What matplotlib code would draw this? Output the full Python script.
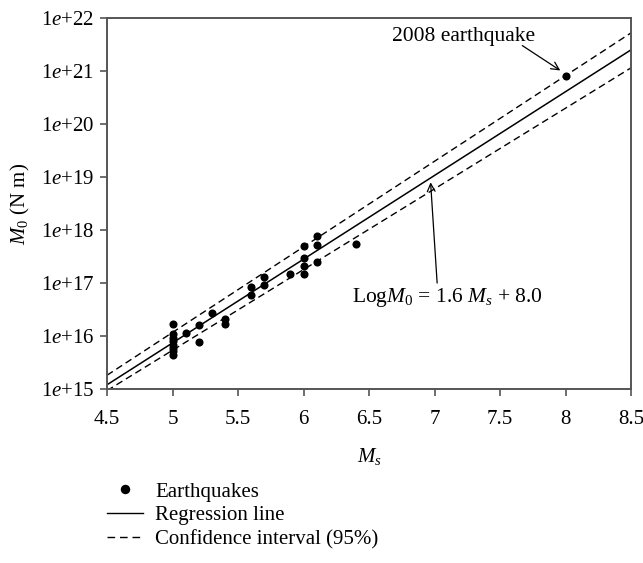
import numpy as np
import matplotlib
matplotlib.use("Agg")
import matplotlib.pyplot as plt
from matplotlib.lines import Line2D

plt.rcParams['font.family'] = ['Liberation Serif', 'DejaVu Serif']
plt.rcParams['mathtext.fontset'] = 'custom'
plt.rcParams['mathtext.rm'] = 'Liberation Serif'
plt.rcParams['mathtext.it'] = 'Liberation Serif:italic'

# earthquake data (Ms, M0 in N m)
ms = [5.0, 5.0, 5.0, 5.0, 5.0, 5.0, 5.0, 5.0,
      5.1, 5.2, 5.2, 5.3, 5.4, 5.4,
      5.6, 5.6, 5.7, 5.7, 5.9,
      6.0, 6.0, 6.0, 6.0, 6.1, 6.1, 6.1, 6.4, 8.0]
m0 = [1.7e16, 1.1e16, 9.3e15, 8.1e15, 6.9e15, 6.0e15, 5.2e15, 4.4e15,
      1.15e16, 1.6e16, 7.8e15, 2.7e16, 2.1e16, 1.7e16,
      8.5e16, 6.0e16, 1.3e17, 9.3e16, 1.5e17,
      5.0e17, 3.0e17, 2.1e17, 1.5e17, 7.6e17, 5.3e17, 2.5e17, 5.4e17, 8.0e20]

# regression line and 95% band (log10 M0 at ends of axis)
x_line = [4.5, 8.5]
log_fit = [15.08, 21.40]
log_upper = [15.26, 21.72]
log_lower = [14.97, 21.06]

xticks = [4.5, 5, 5.5, 6, 6.5, 7, 7.5, 8, 8.5]
xticklabels = ['4.5', '5', '5.5', '6', '6.5', '7', '7.5', '8', '8.5']
yexp = [15, 16, 17, 18, 19, 20, 21, 22]

fig = plt.figure(figsize=(6.43, 5.63), dpi=100)
ax = fig.add_axes([0.1664, 0.309, 0.815, 0.659])

dash = (0, (5, 3))
ax.plot(x_line, [10**v for v in log_fit], color='black', lw=1.1)
ax.plot(x_line, [10**v for v in log_upper], color='black', lw=1.0, linestyle=dash)
ax.plot(x_line, [10**v for v in log_lower], color='black', lw=1.0, linestyle=dash)
ax.scatter(ms, m0, s=34, color='black', zorder=3, linewidths=0)

ax.set_yscale('log')
ax.set_xlim(4.5, 8.5)
ax.set_ylim(1e15, 1e22)
ax.set_xticks(xticks)
ax.set_xticklabels(xticklabels)
ax.set_yticks([10.0**e for e in yexp])
ax.set_yticklabels([r'1$\mathit{e}$+%d' % e for e in yexp])
ax.yaxis.set_minor_locator(matplotlib.ticker.NullLocator())
ax.tick_params(labelsize=15, direction='out', length=5, width=1.2, color='#555555', pad=4)
ax.tick_params(axis='x', pad=10)
for sp in ax.spines.values():
    sp.set_color('#555555')
    sp.set_linewidth(1.4)

ax.set_xlabel(r'$M_s$', fontsize=15, labelpad=12)
ax.set_ylabel(r'$M_0$ (N m)', fontsize=15, labelpad=6)

arrow = dict(arrowstyle='->', color='black', lw=0.9, shrinkA=0, shrinkB=0, mutation_scale=14)
ax.text(7.22, 10**21.66, '2008 earthquake', fontsize=15.5, ha='center', va='center')
ax.annotate('', xy=(7.96, 10**21.01), xytext=(7.67, 10**21.48), arrowprops=arrow)
ax.text(7.1, 10**16.72, r'Log$M_0$ = 1.6 $M_s$ + 8.0', fontsize=15.5, ha='center', va='center')
ax.annotate('', xy=(6.97, 10**18.9), xytext=(7.02, 10**17.0), arrowprops=arrow)

handles = [Line2D([], [], marker='o', color='black', linestyle='none', markersize=5.8),
           Line2D([], [], color='black', lw=1.0),
           Line2D([], [], color='black', lw=1.0, linestyle=(0, (5.5, 3.5)))]
labels = ['Earthquakes', 'Regression line', 'Confidence interval (95%)']
fig.legend(handles, labels, loc='upper left', bbox_to_anchor=(107 / 643, 1 - 482 / 563),
           frameon=False, fontsize=15, handlelength=1.75, handletextpad=0.55,
           labelspacing=0.2, borderaxespad=0, borderpad=0)

fig.savefig('out.png', dpi=100)
